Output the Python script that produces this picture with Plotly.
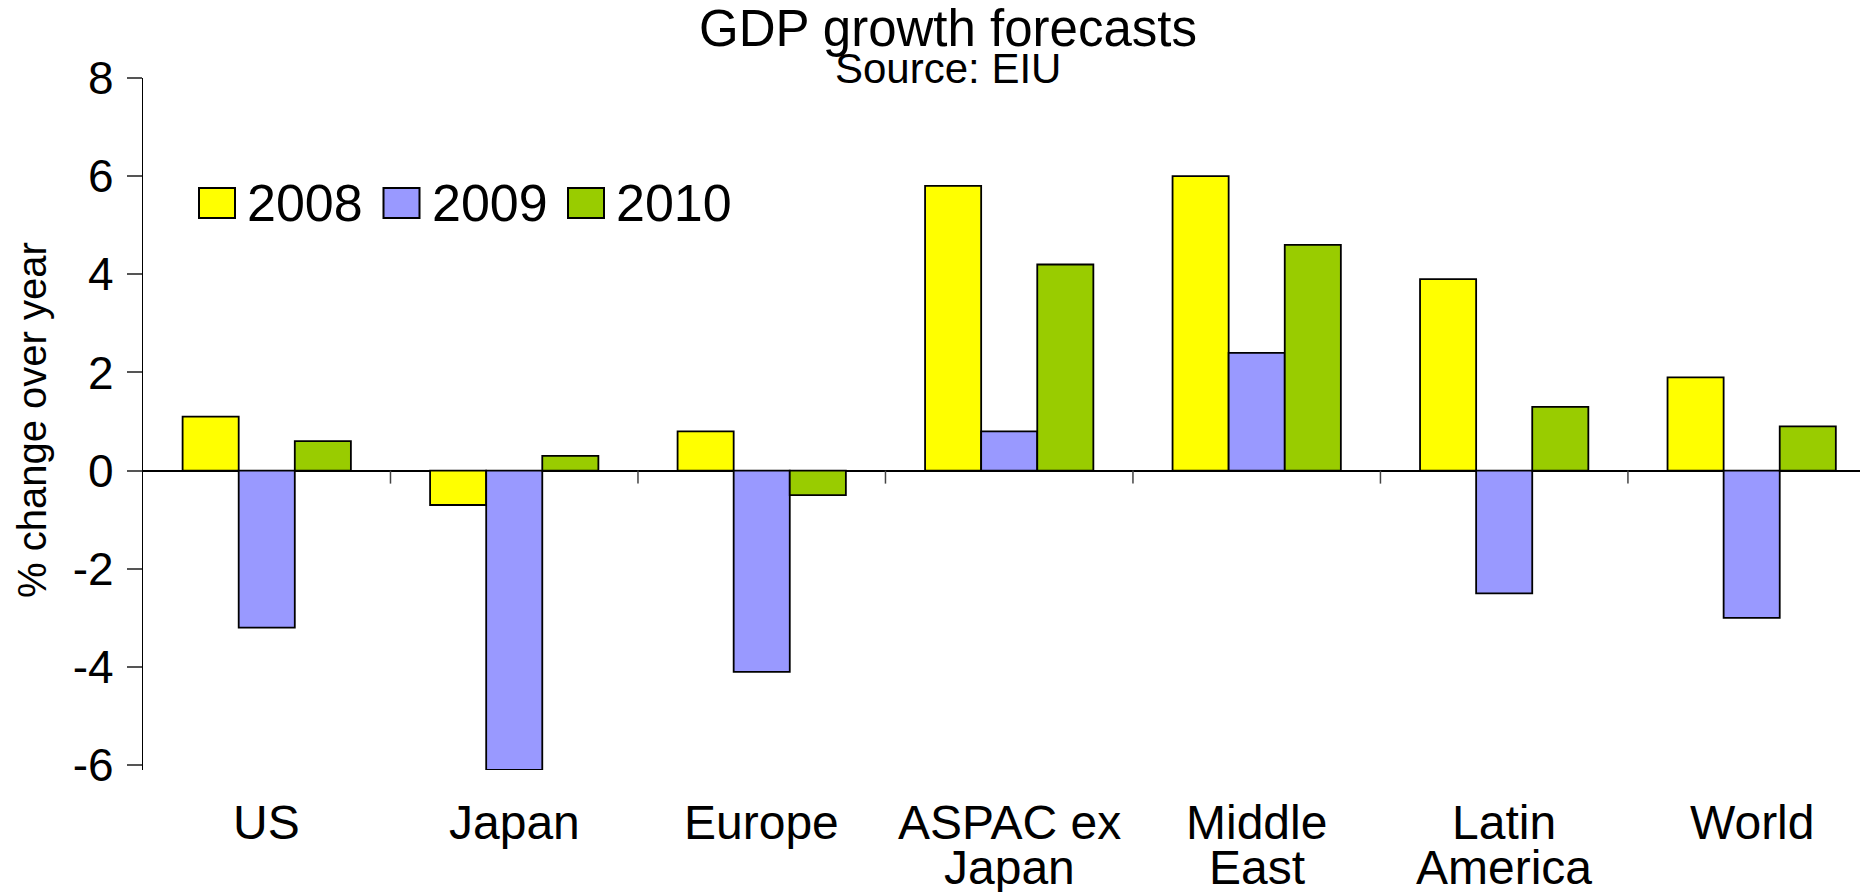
import plotly.graph_objects as go

# ---- data ----
categories = ["US", "Japan", "Europe", "ASPAC ex Japan", "Middle East", "Latin America", "World"]
cat_line1 = ["US", "Japan", "Europe", "ASPAC ex", "Middle", "Latin", "World"]
cat_line2 = ["", "", "", "Japan", "East", "America", ""]
series_names = ["2008", "2009", "2010"]
y2008 = [1.1, -0.7, 0.8, 5.8, 6.0, 3.9, 1.9]
y2009 = [-3.2, -6.1, -4.1, 0.8, 2.4, -2.5, -3.0]
y2010 = [0.6, 0.3, -0.5, 4.2, 4.6, 1.3, 0.9]
y_ticks = [-6, -4, -2, 0, 2, 4, 6, 8]

colors = ["#FFFF00", "#9999FF", "#99CC00"]

# ---- layout geometry (figure pixels; page has an 8px body margin) ----
W, H = 1860, 884
ML, MR, MT, MB = 135, 0, 70, 122
PW = W - ML - MR
PH = H - MT - MB
PLOT_BOTTOM = H - MB


def pxx(px):
    return (px - ML) / PW


def pxy(py):
    return (PLOT_BOTTOM - py) / PH


FONT = "Liberation Sans, Arial, sans-serif"

fig = go.Figure()
for name, vals, col in zip(series_names, [y2008, y2009, y2010], colors):
    fig.add_trace(go.Bar(
        x=categories, y=vals, name=name,
        marker=dict(color=col, line=dict(color="black", width=1.8)),
        showlegend=False,
    ))

shapes = []
annotations = []

# boundary tick marks on the zero line
for i in range(len(categories)):
    shapes.append(dict(
        type="line", xref="x", yref="y", xsizemode="scaled",
        ysizemode="pixel", yanchor=0, x0=i + 0.5, x1=i + 0.5, y0=0, y1=-13,
        line=dict(color="#444444", width=1.5),
    ))

# category labels (two lines, tight spacing)
for c, l1, l2 in zip(categories, cat_line1, cat_line2):
    annotations.append(dict(
        x=c, xref="x", y=0, yref="paper", yshift=-52, yanchor="middle",
        text=l1, showarrow=False, font=dict(size=48, color="black", family=FONT),
    ))
    if l2:
        annotations.append(dict(
            x=c, xref="x", y=0, yref="paper", yshift=-97, yanchor="middle",
            text=l2, showarrow=False, font=dict(size=48, color="black", family=FONT),
        ))

# manual legend with large swatches
leg_x0 = 191
leg_pitch = 184.5
for k, (name, col) in enumerate(zip(series_names, colors)):
    bx = leg_x0 + k * leg_pitch
    shapes.append(dict(
        type="rect", xref="paper", yref="paper",
        x0=pxx(bx), x1=pxx(bx + 36), y0=pxy(210), y1=pxy(180),
        fillcolor=col, line=dict(color="black", width=2),
    ))
    annotations.append(dict(
        x=pxx(bx + 46), xref="paper", y=pxy(195), yref="paper",
        xanchor="left", yanchor="middle", text=name, showarrow=False,
        font=dict(size=52, color="black", family=FONT),
    ))

# subtitle
annotations.append(dict(
    x=pxx(940), xref="paper", y=pxy(61), yref="paper",
    xanchor="center", yanchor="middle", text="Source: EIU", showarrow=False,
    font=dict(size=42, color="black", family=FONT),
))

# y axis title
annotations.append(dict(
    x=pxx(24), xref="paper", y=pxy(412), yref="paper",
    xanchor="center", yanchor="middle", text="% change over year", textangle=-90,
    showarrow=False, font=dict(size=40, color="black", family=FONT),
))

fig.update_layout(
    width=W, height=H,
    margin=dict(l=ML, r=MR, t=MT, b=MB, pad=0),
    paper_bgcolor="white", plot_bgcolor="white",
    font=dict(family=FONT, color="black"),
    barmode="group", bargap=0.32, bargroupgap=0,
    title=dict(
        text="GDP growth forecasts", x=940 / W, xref="container", xanchor="center",
        y=1 - 20 / H, yref="container", yanchor="middle",
        font=dict(size=51, color="black", family=FONT),
    ),
    xaxis=dict(
        type="category", range=[-0.5, 6.47], showticklabels=False, ticks="",
        showline=False, showgrid=False, zeroline=False, fixedrange=True,
    ),
    yaxis=dict(
        range=[-6.1, 8], tickvals=y_ticks, ticktext=[str(v) for v in y_ticks],
        showgrid=False, showline=True, linecolor="black", linewidth=1.2,
        ticks="outside", ticklen=15, tickwidth=1.5, tickcolor="#555555",
        ticklabelstandoff=4,
        tickfont=dict(size=46, color="black", family=FONT),
        zeroline=True, zerolinecolor="black", zerolinewidth=1.5,
    ),
    shapes=shapes,
    annotations=annotations,
    showlegend=False,
)

fig.write_html("out.html")
